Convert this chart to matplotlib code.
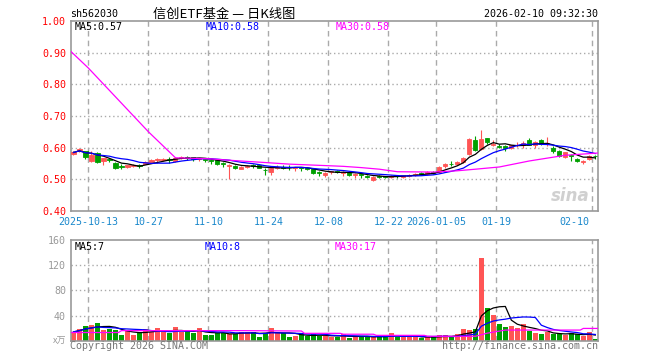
import numpy as np
import pandas as pd
import matplotlib
matplotlib.use('Agg')
import matplotlib.pyplot as plt
import matplotlib.transforms as mtransforms

# --- data (one entry per trading day) ---
tick_idx = [3, 13, 23, 33, 43, 53, 61, 71, 87]
tick_lbl = ['2025-10-13', '10-27', '11-10', '11-24', '12-08', '12-22',
            '2026-01-05', '01-19', '02-10']

opens = [0.580, 0.590, 0.589, 0.558, 0.583, 0.558, 0.565, 0.552, 0.543, 0.538,
         0.543, 0.545, 0.549, 0.555, 0.560, 0.562, 0.565, 0.558, 0.567, 0.570,
         0.570, 0.563, 0.565, 0.562, 0.560, 0.552, 0.542, 0.543, 0.533, 0.540,
         0.545, 0.545, 0.530, 0.522, 0.537, 0.540, 0.540, 0.535, 0.538, 0.537,
         0.533, 0.522, 0.513, 0.522, 0.527, 0.520, 0.522, 0.515, 0.517, 0.512,
         0.499, 0.510, 0.510, 0.508, 0.512, 0.507, 0.512, 0.514, 0.520, 0.518,
         0.523, 0.522, 0.543, 0.550, 0.548, 0.555, 0.580, 0.625, 0.597, 0.630,
         0.608, 0.605, 0.605, 0.598, 0.607, 0.608, 0.623, 0.607, 0.623, 0.612,
         0.600, 0.590, 0.570, 0.578, 0.565, 0.555, 0.565, 0.575]
highs = [0.590, 0.600, 0.590, 0.590, 0.587, 0.568, 0.568, 0.555, 0.547, 0.546,
         0.548, 0.547, 0.557, 0.563, 0.567, 0.568, 0.572, 0.570, 0.574, 0.574,
         0.570, 0.568, 0.567, 0.563, 0.562, 0.555, 0.547, 0.545, 0.542, 0.546,
         0.548, 0.548, 0.535, 0.537, 0.545, 0.545, 0.545, 0.540, 0.540, 0.538,
         0.534, 0.525, 0.522, 0.527, 0.530, 0.525, 0.523, 0.520, 0.520, 0.513,
         0.510, 0.513, 0.512, 0.513, 0.515, 0.515, 0.518, 0.520, 0.523, 0.526,
         0.526, 0.543, 0.552, 0.557, 0.558, 0.572, 0.630, 0.637, 0.657, 0.632,
         0.625, 0.612, 0.610, 0.610, 0.617, 0.620, 0.630, 0.620, 0.627, 0.633,
         0.605, 0.593, 0.587, 0.580, 0.567, 0.562, 0.577, 0.577]
lows = [0.578, 0.585, 0.564, 0.555, 0.553, 0.546, 0.555, 0.533, 0.533, 0.536,
        0.540, 0.535, 0.548, 0.552, 0.553, 0.557, 0.552, 0.555, 0.563, 0.562,
        0.558, 0.558, 0.555, 0.547, 0.545, 0.540, 0.500, 0.533, 0.532, 0.537,
        0.537, 0.535, 0.513, 0.515, 0.533, 0.532, 0.530, 0.527, 0.527, 0.528,
        0.517, 0.510, 0.508, 0.517, 0.520, 0.510, 0.510, 0.505, 0.505, 0.505,
        0.495, 0.505, 0.503, 0.505, 0.504, 0.505, 0.508, 0.510, 0.513, 0.515,
        0.517, 0.520, 0.535, 0.543, 0.545, 0.553, 0.577, 0.589, 0.594, 0.612,
        0.604, 0.598, 0.589, 0.595, 0.603, 0.600, 0.607, 0.600, 0.610, 0.605,
        0.583, 0.572, 0.568, 0.558, 0.556, 0.547, 0.560, 0.565]
closes = [0.585, 0.595, 0.572, 0.578, 0.555, 0.566, 0.560, 0.535, 0.540, 0.544,
          0.545, 0.543, 0.555, 0.560, 0.563, 0.565, 0.562, 0.568, 0.572, 0.567,
          0.565, 0.566, 0.562, 0.558, 0.550, 0.550, 0.545, 0.535, 0.540, 0.543,
          0.543, 0.537, 0.528, 0.535, 0.540, 0.537, 0.538, 0.538, 0.536, 0.533,
          0.520, 0.520, 0.520, 0.525, 0.524, 0.523, 0.515, 0.517, 0.513, 0.507,
          0.508, 0.508, 0.508, 0.510, 0.510, 0.513, 0.515, 0.517, 0.518, 0.522,
          0.520, 0.540, 0.550, 0.548, 0.556, 0.568, 0.628, 0.594, 0.628, 0.618,
          0.612, 0.603, 0.600, 0.607, 0.610, 0.615, 0.610, 0.617, 0.612, 0.614,
          0.590, 0.575, 0.585, 0.575, 0.558, 0.557, 0.575, 0.573]
volumes = [14, 18, 24, 25, 28.5, 17, 19, 17, 9, 15,
           9, 14, 18.5, 14, 19.5, 14, 13, 21, 14, 15,
           12, 19.5, 9, 9, 13, 13, 10, 10, 14, 14,
           14, 6.4, 11.7, 20, 11.7, 11.7, 6.4, 8, 10, 7.5,
           10, 8, 7.5, 6.4, 6.4, 10, 4.8, 6.4, 6.4, 6.4,
           6.4, 6.4, 6.4, 12.7, 6.4, 6.4, 6.4, 6.4, 4.8, 5.3,
           5.3, 9, 9, 5.3, 10.6, 18.6, 17, 18.6, 132, 52,
           40.4, 26.5, 21.2, 23.3, 19.6, 26.5, 15.4, 11.7, 10, 14.3,
           10.6, 10, 9, 11.7, 10, 7.4, 13.2, 2.6]

ma30_px = [-0.5, 2.5, 12.5, 17, 22.5, 27, 32, 36, 42.5, 45, 48, 51, 54, 60, 64, 67, 71, 76, 82, 87.4]
ma30_py = [0.905, 0.851, 0.650, 0.568, 0.565, 0.559, 0.553, 0.548, 0.543, 0.541,
           0.537, 0.532, 0.524, 0.523, 0.527, 0.532, 0.539, 0.558, 0.576, 0.583]
ma30_vx = [-0.5, 7.5, 8, 28, 38, 38.5, 44.5, 45, 50, 50.5, 58.5, 59, 67, 69, 72, 84.5, 85, 87.4]
ma30_vy = [13, 13, 16, 16, 15.4, 11.7, 11.7, 10.3, 10.3, 8.5, 8.5, 7, 7, 12, 16.9, 16.9, 19.5, 19.5]

RED = '#ff5555'
GREEN = '#00a000'
GRID = '#aaaaaa'
MONO = 'DejaVu Sans Mono'
CJK = ['Noto Sans CJK SC', 'DejaVu Sans']

x = np.arange(len(closes))
o = np.array(opens); h = np.array(highs); l = np.array(lows); c = np.array(closes)
v = np.array(volumes)
up = c >= o
cols = [RED if u else GREEN for u in up]

ma5 = pd.Series(c).rolling(5, min_periods=1).mean()
ma10 = pd.Series(c).rolling(10, min_periods=1).mean()
vma5 = pd.Series(v).rolling(5, min_periods=1).mean()
vma10 = pd.Series(v).rolling(10, min_periods=1).mean()

W, H = 660, 360
fig = plt.figure(figsize=(6.6, 3.6), dpi=100)
L, R = 70.5, 597.7
axp = fig.add_axes([L / W, 1 - 211 / H, (R - L) / W, 190 / H])
axv = fig.add_axes([L / W, 1 - 340.7 / H, (R - L) / W, 100.7 / H])

grid_x = [t - 0.5 for t in tick_idx]

def style(ax):
    for s in ax.spines.values():
        s.set_color('#999999')
        s.set_linewidth(1.2)
    ax.set_xlim(-0.5, 87.4)
    for gx in grid_x:
        ax.axvline(gx, color=GRID, lw=1.0, ls=(0, (4, 3)), zorder=0)
    ax.tick_params(length=0, pad=3.3)

# price panel
style(axp)
axp.set_ylim(0.40, 1.00)
for gy in [0.5, 0.6, 0.7, 0.8, 0.9]:
    axp.axhline(gy, color=GRID, lw=1.0, ls=(0, (1, 2)), zorder=0)
axp.vlines(x, l, h, colors=cols, lw=0.8, zorder=2)
axp.bar(x, np.abs(c - o), bottom=np.minimum(o, c), width=0.68, color=cols,
        edgecolor=cols, linewidth=0.6, zorder=3)
axp.plot(x, ma5, color='black', lw=0.9, zorder=4)
axp.plot(x, ma10, color='#0000ff', lw=0.9, zorder=4)
axp.plot(ma30_px, ma30_py, color='#ff00ff', lw=0.9, zorder=4)
axp.set_yticks([0.4, 0.5, 0.6, 0.7, 0.8, 0.9, 1.0])
axp.set_yticklabels(['%.2f' % t for t in [0.4, 0.5, 0.6, 0.7, 0.8, 0.9, 1.0]],
                    color='#ff0000', fontsize=7.2, family=MONO)
axp.set_xticks(grid_x)
axp.set_xticklabels(tick_lbl, color='#1a88cc', fontsize=7.2, family=MONO)
axp.tick_params(axis='x', pad=4.5)
last = axp.get_xticklabels()[-1]
last.set_transform(last.get_transform() + mtransforms.ScaledTranslation(-18 / 100, 0, fig.dpi_scale_trans))

for txt, xx, col in [('MA5:0.57', 75, 'black'), ('MA10:0.58', 206, '#0000ff'), ('MA30:0.58', 336, '#ff00ff')]:
    axp.text((xx - L) / (R - L), 1 - 6 / 190, txt, transform=axp.transAxes, color=col,
             fontsize=7.2, family=MONO, va='center', ha='left')

axp.text(0.985, 0.08, 'sina', transform=axp.transAxes, color='#d0d0d0', fontsize=12,
         style='italic', fontweight='bold', ha='right', va='center', zorder=1)

# volume panel
style(axv)
axv.set_ylim(0, 160)
for gy in [40, 80, 120]:
    axv.axhline(gy, color=GRID, lw=1.0, ls=(0, (1, 2)), zorder=0)
axv.bar(x, v, width=0.8, color=cols, zorder=2)
axv.plot(x, vma5, color='black', lw=0.9, zorder=4)
axv.plot(x, vma10, color='#0000ff', lw=0.9, zorder=4)
axv.plot(ma30_vx, ma30_vy, color='#ff00ff', lw=0.9, zorder=4)
axv.set_yticks([40, 80, 120, 160])
axv.set_yticklabels(['40', '80', '120', '160'], color='#999999', fontsize=7.2, family=MONO)
axv.set_xticks([])

for txt, xx, col in [('MA5:7', 75, 'black'), ('MA10:8', 205, '#0000ff'), ('MA30:17', 335, '#ff00ff')]:
    axv.text((xx - L) / (R - L), 1 - 6.7 / 100.7, txt, transform=axv.transAxes, color=col,
             fontsize=7.2, family=MONO, va='center', ha='left')

# header / footer texts
fig.text(70 / W, 1 - 14 / H, 'sh562030', fontsize=7.2, family=MONO, va='center', ha='left')
fig.text(224 / W, 1 - 14 / H, '信创ETF基金 — 日K线图', fontsize=9.5, family=CJK, va='center', ha='center')
fig.text(598 / W, 1 - 14 / H, '2026-02-10 09:32:30', fontsize=7.2, family=MONO, va='center', ha='right')
fig.text(66 / W, 1 - 341 / H, 'x万', fontsize=6.5, family=CJK, color='#999999', va='center', ha='right')
fig.text(70 / W, 1 - 346 / H, 'Copyright 2026 SINA.COM', fontsize=7.2, family=MONO, color='#777777', va='center', ha='left')
fig.text(598 / W, 1 - 346 / H, 'http://finance.sina.com.cn', fontsize=7.2, family=MONO, color='#777777', va='center', ha='right')

fig.savefig('out.png', dpi=100)
